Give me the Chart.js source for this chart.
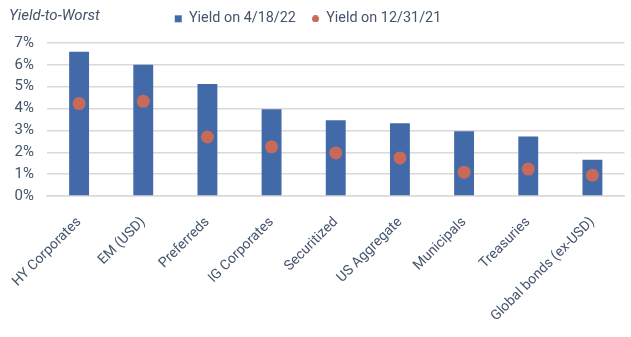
<!DOCTYPE html>
<html>
<head>
<meta charset="utf-8">
<script src="https://cdn.jsdelivr.net/npm/chart.js@4.4.1/dist/chart.umd.min.js"></script>
<style>
    html, body { margin: 0; padding: 0; background: #fff; }
    #wrap { position: relative; width: 631px; height: 337px; }
    #title {
        position: absolute; left: 9px; top: 6px;
        font: italic 15px Roboto, sans-serif; color: #44546a;
    }
</style>
</head>
<body>
<div id="wrap">
    <canvas id="ytw-chart"></canvas>
    <div id="title">Yield-to-Worst</div>
</div>
<script>
// Yield-to-worst by fixed income sector (%)
const sectors = ['HY Corporates', 'EM (USD)', 'Preferreds', 'IG Corporates', 'Securitized',
    'US Aggregate', 'Municipals', 'Treasuries', 'Global bonds (ex-USD)'];
const yieldApr2022 = [6.60, 6.00, 5.12, 3.97, 3.46, 3.33, 2.96, 2.72, 1.66];
const yieldDec2021 = [4.23, 4.33, 2.70, 2.25, 1.97, 1.74, 1.09, 1.23, 0.95];
const yTicks = [0, 1, 2, 3, 4, 5, 6, 7];

const TEXT = '#44546a';
const GRID = '#d9d9d9';
const BLUE = '#436aa8';
const RED = '#c86a5a';

// small dot used as the legend marker for the year-end series
const legendDot = document.createElement('canvas');
legendDot.width = 7;
legendDot.height = 7;
(() => {
    const c = legendDot.getContext('2d');
    c.fillStyle = RED;
    c.beginPath();
    c.arc(3.5, 3.5, 3.5, 0, Math.PI * 2);
    c.fill();
})();

// pull the legend up onto the title line, a bit left of centre
const legendNudge = {
    id: 'legendNudge',
    afterLayout(chart) {
        const lg = chart.legend;
        if (!lg) return;
        lg.left -= 5;
        lg.right -= 5;
        lg.top -= 7;
        lg.bottom -= 7;
    }
};

const ctx = document.getElementById('ytw-chart').getContext('2d');

new Chart(ctx, {
    data: {
        labels: sectors,
        datasets: [{
            type: 'bar',
            label: 'Yield on 4/18/22',
            data: yieldApr2022,
            backgroundColor: BLUE,
            pointStyle: 'rect',
            categoryPercentage: 1,
            barPercentage: 0.31,
            order: 2
        }, {
            type: 'line',
            label: 'Yield on 12/31/21',
            data: yieldDec2021,
            showLine: false,
            pointStyle: 'circle',
            pointRadius: 6.5,
            pointHoverRadius: 6.5,
            pointBorderWidth: 0,
            backgroundColor: RED,
            borderColor: RED,
            order: 1
        }]
    },
    plugins: [legendNudge],
    options: {
        responsive: true,
        maintainAspectRatio: false,
        animation: false,
        layout: {
            padding: { left: 0, right: 5, top: 0, bottom: 0 }
        },
        scales: {
            x: {
                grid: { display: false },
                border: { display: true, color: GRID, width: 1.5 },
                ticks: {
                    color: TEXT,
                    font: { family: 'Roboto', size: 14 },
                    minRotation: 45,
                    maxRotation: 45,
                    padding: 10
                },
                afterFit: (scale) => { scale.height = 141; }
            },
            y: {
                min: 0,
                max: 7,
                afterBuildTicks: (scale) => {
                    scale.ticks = yTicks.map(v => ({ value: v }));
                },
                grid: { color: GRID, lineWidth: 1.5, drawTicks: false },
                border: { display: false },
                ticks: {
                    color: TEXT,
                    font: { family: 'Roboto', size: 15 },
                    padding: 13,
                    callback: (v) => v + '%'
                },
                afterFit: (scale) => {
                    scale.width = 47;
                    scale.paddingTop = 43;
                }
            }
        },
        plugins: {
            legend: {
                position: 'top',
                labels: {
                    usePointStyle: true,
                    boxWidth: 7,
                    boxHeight: 7,
                    padding: 16,
                    color: TEXT,
                    font: { family: 'Roboto', size: 14.4 },
                    sort: (a, b) => a.datasetIndex - b.datasetIndex,
                    generateLabels: (chart) => {
                        const items = Chart.defaults.plugins.legend.labels.generateLabels(chart);
                        items.forEach(it => {
                            if (it.datasetIndex === 1) it.pointStyle = legendDot;
                        });
                        return items;
                    }
                }
            },
            tooltip: { enabled: false }
        }
    }
});
</script>
</body>
</html>
